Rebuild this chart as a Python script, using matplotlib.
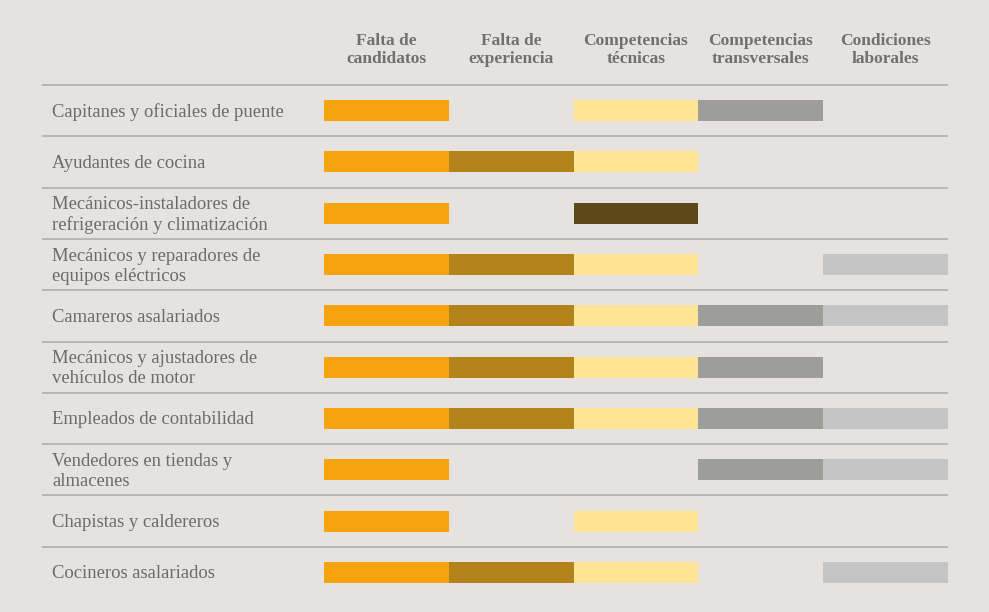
import matplotlib.pyplot as plt
from matplotlib.patches import Rectangle

# column headers and row labels
columns = ['Falta de\ncandidatos', 'Falta de\nexperiencia', 'Competencias\ntécnicas',
           'Competencias\ntransversales', 'Condiciones\nlaborales']
occupations = [
    'Capitanes y oficiales de puente',
    'Ayudantes de cocina',
    'Mecánicos-instaladores de\nrefrigeración y climatización',
    'Mecánicos y reparadores de\nequipos eléctricos',
    'Camareros asalariados',
    'Mecánicos y ajustadores de\nvehículos de motor',
    'Empleados de contabilidad',
    'Vendedores en tiendas y\nalmacenes',
    'Chapistas y caldereros',
    'Cocineros asalariados',
]
# 1 = difficulty present, 0 = absent
falta_candidatos = [1, 1, 1, 1, 1, 1, 1, 1, 1, 1]
falta_experiencia = [0, 1, 0, 1, 1, 1, 1, 0, 0, 1]
comp_tecnicas = [1, 1, 1, 1, 1, 1, 1, 0, 1, 1]
comp_transversales = [1, 0, 0, 0, 1, 1, 1, 1, 0, 0]
cond_laborales = [0, 0, 0, 1, 1, 0, 1, 1, 0, 1]

matrix = [falta_candidatos, falta_experiencia, comp_tecnicas, comp_transversales, cond_laborales]
col_colors = ['#f7a30f', '#b3821a', '#ffe494', '#9d9d9b', '#c5c5c5']
# the one highlighted cell (row 2, technical skills)
special = {(2, 2): '#5c4917'}

bg = '#e6e2df'
txt = '#6b6b6b'
serif = ['Liberation Serif', 'DejaVu Serif']

fig = plt.figure(figsize=(9.89, 6.12), dpi=100, facecolor=bg)
W, H = 989, 612
x0, x1 = 324, 948
ytop, ybot = 85, 598
ax = fig.add_axes([x0 / W, (H - ybot) / H, (x1 - x0) / W, (ybot - ytop) / H])
ax.set_facecolor(bg)
ax.set_xlim(0, 5)
ax.set_ylim(len(occupations), 0)
ax.axis('off')

unit = (x1 - x0) / 5.0
line_left = (42 - x0) / unit
label_x = (52 - x0) / unit

bar_h = 0.41
for c, col in enumerate(matrix):
    for r, v in enumerate(col):
        if v:
            color = special.get((r, c), col_colors[c])
            ax.add_patch(Rectangle((c, r + 0.5 - bar_h / 2), 1, bar_h, color=color, lw=0))

for r in range(len(occupations)):
    ax.plot([line_left, 5], [r, r], color='#b5b3b0', lw=1.3, clip_on=False, solid_capstyle='butt')
    ax.text(label_x, r + 0.53, occupations[r], ha='left', va='center', fontsize=13.4,
            color=txt, family=serif, linespacing=1.22, clip_on=False)

for c, name in enumerate(columns):
    ax.text(c + 0.5, -0.68, name, ha='center', va='center', fontsize=12.5, fontweight='bold',
            color='#707070', family=serif, linespacing=1.12, clip_on=False)

fig.savefig('out.png', dpi=100, facecolor=bg)
